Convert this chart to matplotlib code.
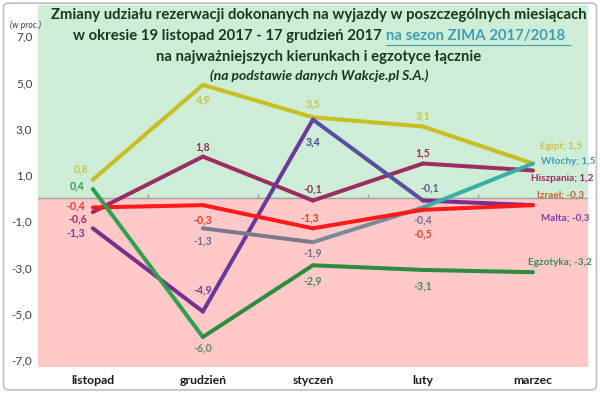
import numpy as np
import matplotlib
matplotlib.use('Agg')
import matplotlib.pyplot as plt
from matplotlib.patches import FancyBboxPatch

plt.rcParams['font.family'] = ['Lato', 'DejaVu Sans']

# dane (zmiana udziału, w proc.)
months = ['listopad', 'grudzień', 'styczeń', 'luty', 'marzec']
egipt = [0.8, 4.9, 3.5, 3.1, 1.5]
hiszpania = [-0.6, 1.8, -0.1, 1.5, 1.2]
izrael = [-0.4, -0.3, -1.3, -0.5, -0.3]
malta = [-1.3, -4.9, 3.4, -0.1, -0.3]
wlochy = [np.nan, -1.3, -1.9, -0.4, 1.5]
egzotyka = [0.4, -6.0, -2.9, -3.1, -3.2]
yticks = [-7, -5, -3, -1, 1, 3, 5, 7]

series = [
    # name, values, segment colours, label colours, label offsets (px), end label colour, end offset
    ('Egipt', egipt, ['#C8BE22'] * 4, ['#CBC24A'] * 4,
     [(-12, 11), (0, -15), (0, 13), (0, 11)], '#CBC24A', (28, 17)),
    ('Hiszpania', hiszpania, ['#9B2D62'] * 4, ['#9B2D5F'] * 4,
     [(-15, -7), (0, 10), (0, 12), (0, 11)], '#9B2D5F', (29, -8)),
    ('Malta', malta, ['#7B2E8E', '#6A3A98', '#5A4E9E', '#7B2E8E'],
     ['#7A3A96', '#7A3A96', '#4A4A8A', '#5E5E8E'],
     [(-17, -5), (0, 22), (0, -22), (7, 13)], '#8A3A9E', (32, -13)),
    ('Włochy', wlochy, ['#7A7A8C', '#7A7A8C', '#7A8A9A', '#3AAFA8'],
     ['#6E6E96'] * 4,
     [(0, 0), (0, -13), (0, -11), (0, -12)], '#3A9AC0', (35, 2)),
    ('Izrael', izrael, ['#FF1A1A'] * 4, ['#E8402A', '#E8402A', '#E8402A', '#E8402A'],
     [(-17, 2), (0, -15), (-3, 10), (0, -24)], '#C8602A', (28, 10)),
    ('Egzotyka', egzotyka, ['#2EA04E', '#2E8B40', '#2E8B40', '#2E8B40'],
     ['#2E9E4E', '#5E8E5E', '#3E8E4E', '#3E8E4E'],
     [(-16, 3), (0, -11), (0, -16), (0, -16)], '#3C8C50', (27, 10)),
]


def fmt(v):
    return f'{v:.1f}'.replace('.', ',')


fig = plt.figure(figsize=(6.0, 3.93), dpi=100)
fig.patches.append(FancyBboxPatch((0.006, 0.008), 0.988, 0.984,
                                  boxstyle='round,pad=0,rounding_size=0.01',
                                  transform=fig.transFigure, fc='white',
                                  ec='#BFBFBF', lw=1.2, zorder=-5))
ax = fig.add_axes([0.063, 0.066, 0.917, 0.921])
ax.set_xlim(-0.5, len(months) - 0.5)
ax.set_ylim(-7.3, 8.35)

# tło: zielone powyżej zera, czerwone poniżej
ax.axhspan(0, 8.35, color='#CDEDD6', zorder=0, lw=0)
ax.axhspan(-7.3, 0, color='#FFC9CA', zorder=0, lw=0)
ax.axhline(0, color='#A0A0A0', lw=1, zorder=1)
ax.vlines(np.arange(0.5, len(months) - 0.5, 1), 0, 0.2, color='#A0A0A0', lw=1, zorder=1)

x = np.arange(len(months))
for name, vals, seg_cols, lab_cols, offs, end_col, end_off in series:
    for i in range(len(vals) - 1):
        if np.isnan(vals[i]) or np.isnan(vals[i + 1]):
            continue
        ax.plot(x[i:i + 2], vals[i:i + 2], color=seg_cols[i], lw=2.9,
                solid_capstyle='round', zorder=3)
    for i in range(len(vals) - 1):
        if np.isnan(vals[i]):
            continue
        ax.annotate(fmt(vals[i]), (x[i], vals[i]), xytext=offs[i],
                    textcoords='offset pixels', ha='center', va='center',
                    fontsize=7.6, fontweight='bold', color=lab_cols[i], zorder=5)
    ax.annotate(f'{name}; {fmt(vals[-1])}', (x[-1], vals[-1]), xytext=end_off,
                textcoords='offset pixels', ha='center', va='center',
                fontsize=7.2, fontweight='bold', color=end_col, zorder=5)

ax.set_xticks(x)
ax.set_xticklabels(months, fontsize=8.8, fontweight='bold', color='#1A1A1A')
ax.set_yticks(yticks)
ax.set_yticklabels([fmt(v) for v in yticks], fontsize=8.5, color='#404040')
ax.tick_params(length=0, pad=4)
ax.tick_params(axis='x', pad=6)
for s in ax.spines.values():
    s.set_visible(False)

fig.text(26 / 600, 1 - 25 / 393, '(w proc.)', fontsize=6.3,
         style='italic', color='#404040', ha='center', va='center')

# tytuł
tc = '#163A1C'
cx = 319 / 600
fs = 10.7
fig.text(cx, 1 - 15 / 393, 'Zmiany udziału rezerwacji dokonanych na wyjazdy w poszczególnych miesiącach',
         ha='center', va='center', fontsize=fs, fontweight='bold', color=tc)
fig.text(cx, 1 - 57 / 393, 'na najważniejszych kierunkach i egzotyce łącznie',
         ha='center', va='center', fontsize=fs, fontweight='bold', color=tc)
fig.text(cx, 1 - 76 / 393, '(na podstawie danych Wakcje.pl S.A.)',
         ha='center', va='center', fontsize=10, fontweight='bold', style='italic', color=tc)

part1 = 'w okresie 19 listopad 2017 - 17 grudzień 2017 '
part2 = 'na sezon ZIMA 2017/2018'
y2 = 1 - 36 / 393
fig.canvas.draw()
r = fig.canvas.get_renderer()
t1 = fig.text(0, y2, part1, ha='left', va='center', fontsize=fs, fontweight='bold', color=tc)
t2 = fig.text(0, y2, part2, ha='left', va='center', fontsize=fs, fontweight='bold', color='#3E9EB8')
w1 = t1.get_window_extent(r).width / fig.bbox.width
w2 = t2.get_window_extent(r).width / fig.bbox.width
x0 = cx - (w1 + w2) / 2
t1.set_x(x0)
t2.set_x(x0 + w1)
bb = t2.get_window_extent(r)
fig.lines.append(plt.Line2D([x0 + w1, x0 + w1 + w2 + 0.008], [bb.y0 / fig.bbox.height - 0.004] * 2,
                            transform=fig.transFigure, color='#3E9EB8', lw=0.8))

fig.savefig('out.png', dpi=100)
